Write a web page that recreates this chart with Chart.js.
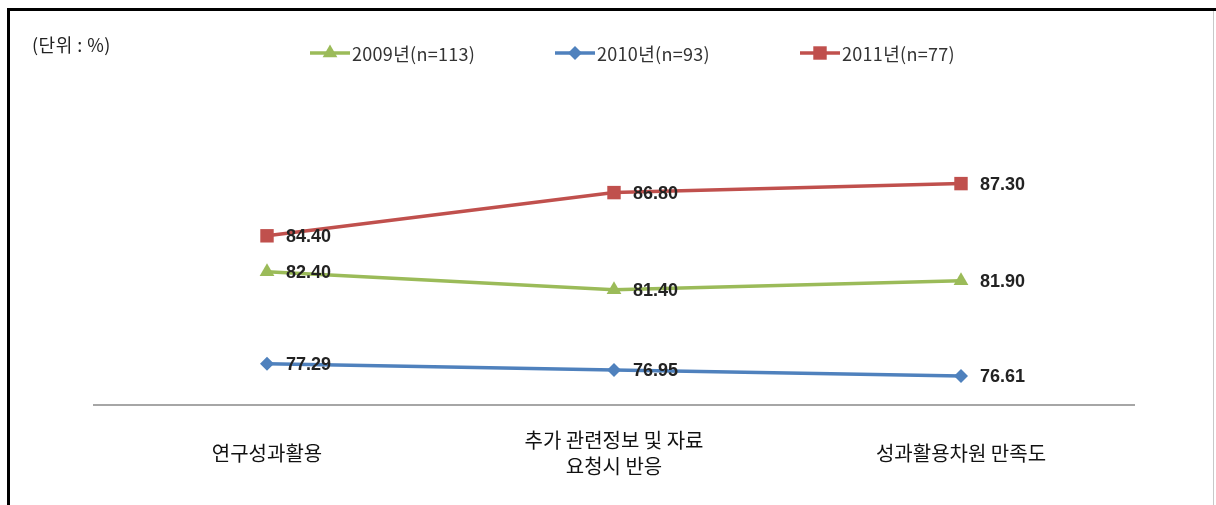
<!DOCTYPE html>
<html>
<head>
<meta charset="utf-8">
<script src="https://cdn.jsdelivr.net/npm/chart.js@4/dist/chart.umd.min.js"></script>
<style>
  html, body { margin: 0; padding: 0; background: #fff; }
  #wrap { position: relative; width: 1216px; height: 505px; overflow: hidden; }
  #frame-top { position: absolute; left: 7px; top: 8px; width: 1209px; height: 3px; background: #000; }
  #frame-left { position: absolute; left: 7px; top: 8px; width: 3px; height: 497px; background: #000; }
  #frame-right { position: absolute; left: 1213px; top: 11px; width: 1px; height: 494px; background: #c8c8c8; }
  #unit { position: absolute; left: 32px; top: 31px; font: 18px "Noto Sans CJK KR", sans-serif; color: #222; letter-spacing: 0.5px; }
  #legend { position: absolute; left: 310px; top: 40px; display: flex; }
  .item { width: 245px; display: flex; align-items: center; font: 18px "Noto Sans CJK KR", sans-serif; color: #333; letter-spacing: 0.3px; }
  .item canvas { margin-right: 2px; }
  #chart { position: absolute; left: 0; top: 0; }
</style>
</head>
<body>
<div id="wrap">
  <canvas id="chart" width="1216" height="505"></canvas>
  <div id="frame-top"></div>
  <div id="frame-left"></div>
  <div id="frame-right"></div>
  <div id="unit">(단위 : %)</div>
  <div id="legend"></div>
</div>
<script>
const categories = [
  "연구성과활용",
  ["추가 관련정보 및 자료", "요청시 반응"],
  "성과활용차원 만족도",
];
const seriesNames = ["2009년(n=113)", "2010년(n=93)", "2011년(n=77)"];
const values2009 = [82.4, 81.4, 81.9];
const values2010 = [77.29, 76.95, 76.61];
const values2011 = [84.4, 86.8, 87.3];

const colors = ["#9bbb59", "#4f81bd", "#c0504d"];
const markers = ["triangle", "rectRot", "rect"];
const markerSizes = [8.5, 7, 9.5];

function drawMarker(ctx, style, x, y, r) {
  ctx.beginPath();
  if (style === "triangle") {
    ctx.moveTo(x, y - r);
    ctx.lineTo(x + r * 0.866, y + r * 0.5);
    ctx.lineTo(x - r * 0.866, y + r * 0.5);
  } else if (style === "rectRot") {
    ctx.moveTo(x, y - r);
    ctx.lineTo(x + r, y);
    ctx.lineTo(x, y + r);
    ctx.lineTo(x - r, y);
  } else {
    const s = r * Math.SQRT1_2;
    ctx.rect(x - s, y - s, 2 * s, 2 * s);
  }
  ctx.closePath();
  ctx.fill();
}

const valueLabels = {
  id: "valueLabels",
  afterDatasetsDraw(chart) {
    const ctx = chart.ctx;
    ctx.save();
    ctx.font = "bold 18px 'Liberation Sans', Arial, sans-serif";
    ctx.fillStyle = "#222";
    ctx.textAlign = "left";
    ctx.textBaseline = "middle";
    chart.data.datasets.forEach((ds, i) => {
      const meta = chart.getDatasetMeta(i);
      meta.data.forEach((pt, j) => {
        ctx.fillText(ds.data[j].toFixed(2), pt.x + 19, pt.y + 1);
      });
    });
    ctx.restore();
  },
};

// category labels, vertically centred under the axis like the source
const categoryLabels = {
  id: "categoryLabels",
  afterDraw(chart) {
    const ctx = chart.ctx;
    const x = chart.scales.x;
    const lineH = 26;
    const midY = 453;
    ctx.save();
    ctx.font = "20px 'Noto Sans CJK KR', sans-serif";
    ctx.fillStyle = "#111";
    ctx.textAlign = "center";
    ctx.textBaseline = "middle";
    categories.forEach((lab, i) => {
      const lines = Array.isArray(lab) ? lab : [lab];
      const px = x.getPixelForTick(i);
      const top = midY - (lines.length - 1) * lineH / 2;
      lines.forEach((t, k) => ctx.fillText(t, px, top + k * lineH));
    });
    ctx.restore();
  },
};

const allValues = [values2009, values2010, values2011];
const datasets = allValues.map((vals, i) => ({
  label: seriesNames[i],
  data: vals,
  borderColor: colors[i],
  backgroundColor: colors[i],
  pointBackgroundColor: colors[i],
  pointBorderWidth: 0,
  borderWidth: 3.5,
  pointStyle: markers[i],
  pointRadius: markerSizes[i],
  tension: 0,
}));

const chart = new Chart(document.getElementById("chart"), {
  type: "line",
  data: { labels: categories, datasets: datasets },
  options: {
    responsive: false,
    animation: false,
    devicePixelRatio: 1,
    layout: { padding: { left: 93.5, right: 81.5, top: 135, bottom: 0 } },
    plugins: {
      legend: { display: false },
      tooltip: { enabled: false },
    },
    scales: {
      x: {
        offset: true,
        grid: { display: false },
        border: { display: true, color: "#a6a6a6", width: 2 },
        ticks: { display: false },
        afterFit: (scale) => { scale.height = 100; },
      },
      y: {
        display: false,
        min: 75,
        max: 90,
      },
    },
  },
  plugins: [valueLabels, categoryLabels],
});

// legend: line + marker like the source
const legend = document.getElementById("legend");
seriesNames.forEach((name, i) => {
  const item = document.createElement("div");
  item.className = "item";
  const c = document.createElement("canvas");
  c.width = 40;
  c.height = 20;
  const g = c.getContext("2d");
  g.strokeStyle = colors[i];
  g.fillStyle = colors[i];
  g.lineWidth = 3.5;
  g.beginPath();
  g.moveTo(0, 10);
  g.lineTo(40, 10);
  g.stroke();
  drawMarker(g, markers[i], 20, 10, markerSizes[i]);
  item.appendChild(c);
  const span = document.createElement("span");
  span.textContent = name;
  item.appendChild(span);
  legend.appendChild(item);
});
</script>
</body>
</html>
